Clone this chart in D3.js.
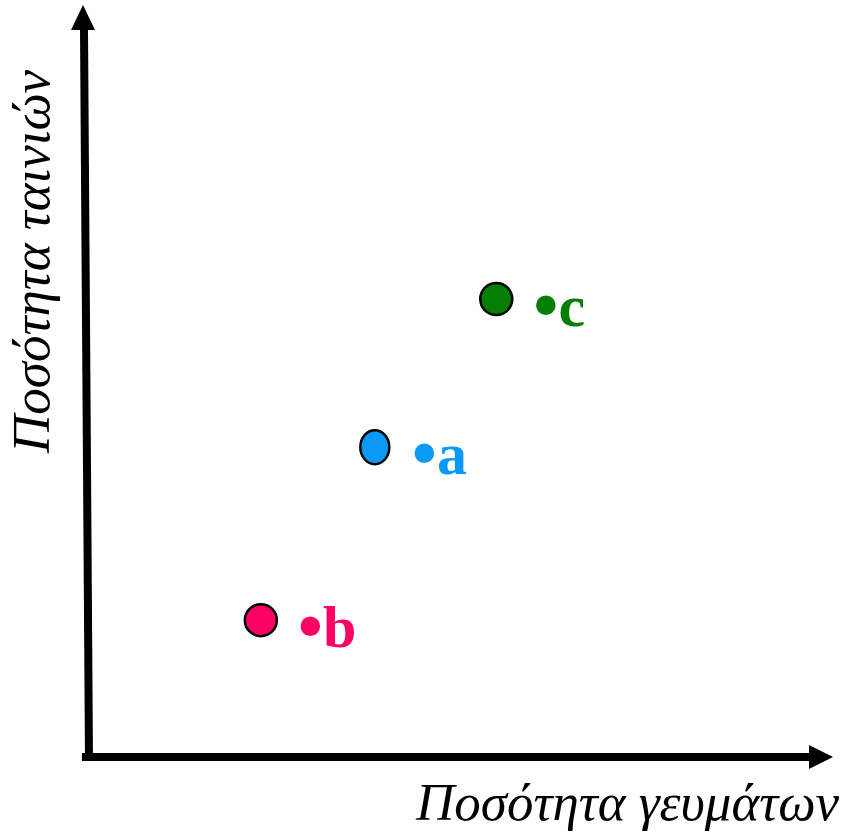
<!DOCTYPE html>
<html>
  <head>
    <meta charset="utf-8">
    <title>Ποσότητα</title>
    <style media="screen">
      body {margin:0; background:#fff}
      text {font-family: "Liberation Serif", "Times New Roman", serif}
    </style>
  </head>
  <body>
    <script src="https://cdn.jsdelivr.net/npm/d3@7/dist/d3.min.js"></script>
    <script type="text/javascript">

    // data
    const names = ['a', 'b', 'c']
    const meals = [3.85, 2.32, 5.48]
    const movies = [4.12, 1.82, 6.09]
    const colors = ['#0a99f7', '#fc0264', '#047f04']
    const xTitle = 'Ποσότητα γευμάτων'
    const yTitle = 'Ποσότητα ταινιών'

    const w = 843, h = 835

    const svg = d3.select('body').append('svg')
      .attr('width', w)
      .attr('height', h)

    const x = d3.scaleLinear().domain([0, 10]).range([88, 833])
    const y = d3.scaleLinear().domain([0, 10]).range([757, 5])

    // axes with arrow heads
    svg.append('line')
      .attr('x1', x(0) - 6).attr('y1', y(0))
      .attr('x2', x(10) - 24).attr('y2', y(0))
      .attr('stroke', '#000').attr('stroke-width', 8)
    svg.append('path')
      .attr('d', `M${x(10)},${y(0)} L${x(10) - 24},${y(0) - 12} L${x(10) - 24},${y(0) + 12} Z`)
      .attr('fill', '#000')

    svg.append('line')
      .attr('x1', x(0) + 1).attr('y1', y(0) + 4)
      .attr('x2', x(0) - 4).attr('y2', y(10) + 24)
      .attr('stroke', '#000').attr('stroke-width', 8)
    svg.append('path')
      .attr('d', `M${x(0) - 5},${y(10)} L${x(0) - 17},${y(10) + 25} L${x(0) + 7},${y(10) + 25} Z`)
      .attr('fill', '#000')

    // axis titles
    svg.append('text')
      .attr('x', 416).attr('y', 820)
      .attr('font-size', 53)
      .attr('font-style', 'italic')
      .text(xTitle)

    svg.append('text')
      .attr('transform', 'translate(49,453) rotate(-90)')
      .attr('font-size', 53)
      .attr('font-style', 'italic')
      .text(yTitle)

    // points
    const pts = d3.range(names.length).map(i => ({name: names[i], mx: meals[i], my: movies[i], color: colors[i]}))

    svg.selectAll('ellipse.pt').data(pts).join('ellipse')
      .attr('class', 'pt')
      .attr('cx', d => x(d.mx))
      .attr('cy', d => y(d.my))
      .attr('rx', d => d.name == 'a' ? 14.5 : 16)
      .attr('ry', d => d.name == 'a' ? 17 : 16)
      .attr('fill', d => d.color)
      .attr('stroke', '#000')
      .attr('stroke-width', 2.5)

    const lab = svg.selectAll('text.lab').data(pts).join('text')
      .attr('class', 'lab')
      .attr('x', d => x(d.mx) + 37)
      .attr('y', d => y(d.my) + 27)
      .attr('font-size', 60)
      .attr('font-weight', 'bold')
      .attr('fill', d => d.color)
    lab.append('tspan').attr('font-size', 72).attr('dy', 3).text('•')
    lab.append('tspan').attr('dy', -3).text(d => d.name)

    </script>
  </body>
</html>
